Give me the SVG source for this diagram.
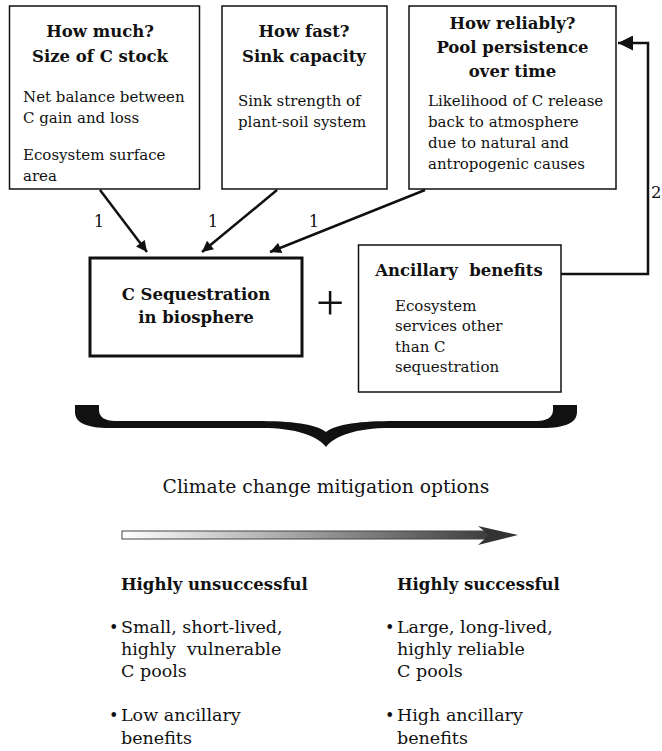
<svg xmlns="http://www.w3.org/2000/svg" width="662" height="751" viewBox="0 0 662 751">
<defs>
<style>
text{font-family:"DejaVu Serif","Liberation Serif",serif;fill:#111}
.t{font-size:16.5px;font-weight:bold;text-anchor:middle}
.b{font-size:15px}
.n{font-size:16.5px;text-anchor:middle}
.box{fill:#fff;stroke:#111;stroke-width:1.5}
.con{fill:none;stroke:#111;stroke-width:2.5}
.bt{font-size:17.5px}
.bu{font-size:16px}
.bh{font-size:16.5px;font-weight:bold}
</style>
<marker id="ah" viewBox="0 0 10 10" refX="10" refY="5" markerWidth="13" markerHeight="11" markerUnits="userSpaceOnUse" orient="auto">
<path d="M0,0 L10,5 L0,10 z" fill="#111"/>
</marker>
<marker id="ah2" viewBox="0 0 10 10" refX="10" refY="5" markerWidth="17" markerHeight="15" markerUnits="userSpaceOnUse" orient="auto">
<path d="M0,0 L10,5 L0,10 z" fill="#111"/>
</marker>
<linearGradient id="grad" x1="122" y1="0" x2="518" y2="0" gradientUnits="userSpaceOnUse">
<stop offset="0" stop-color="#ffffff"/>
<stop offset="1" stop-color="#2e2e2e"/>
</linearGradient>
</defs>
<rect width="662" height="751" fill="#fff"/>

<g id="how-much">
<rect class="box" x="9.5" y="6" width="190" height="183"/>
<text class="t" x="100" y="37">How much?</text>
<text class="t" x="100" y="62">Size of C stock</text>
<text class="b" x="23" y="102">Net balance between</text>
<text class="b" x="23" y="123">C gain and loss</text>
<text class="b" x="23" y="160">Ecosystem surface</text>
<text class="b" x="23" y="181">area</text>
</g>

<g id="how-fast">
<rect class="box" x="222" y="6" width="165" height="183"/>
<text class="t" x="304" y="37">How fast?</text>
<text class="t" x="304" y="62">Sink capacity</text>
<text class="b" x="238" y="106">Sink strength of</text>
<text class="b" x="238" y="127">plant-soil system</text>
</g>

<g id="how-reliably">
<rect class="box" x="409" y="6" width="207" height="183"/>
<text class="t" x="512.5" y="29">How reliably?</text>
<text class="t" x="512.5" y="53">Pool persistence</text>
<text class="t" x="512.5" y="77">over time</text>
<text class="b" x="428" y="106">Likelihood of C release</text>
<text class="b" x="428" y="127">back to atmosphere</text>
<text class="b" x="428" y="148">due to natural and</text>
<text class="b" x="428" y="169">antropogenic causes</text>
</g>

<g id="c-sequestration">
<rect x="90" y="258" width="212" height="98" fill="#fff" stroke="#111" stroke-width="3"/>
<text class="t" x="196" y="300">C Sequestration</text>
<text class="t" x="196" y="323">in biosphere</text>
</g>

<g id="plus">
<text x="330" y="320" font-size="50" text-anchor="middle" style="font-family:'Liberation Serif',serif">+</text>
</g>

<g id="ancillary">
<rect class="box" x="358.5" y="245" width="202.5" height="147"/>
<text class="t" x="459" y="276" style="white-space:pre" xml:space="preserve">Ancillary  benefits</text>
<text class="b" x="395" y="311">Ecosystem</text>
<text class="b" x="395" y="331">services other</text>
<text class="b" x="395" y="352">than C</text>
<text class="b" x="395" y="372">sequestration</text>
</g>

<g id="connectors">
<line class="con" x1="100" y1="190" x2="147" y2="252" marker-end="url(#ah)"/>
<line class="con" x1="277" y1="190" x2="202" y2="252" marker-end="url(#ah)"/>
<line class="con" x1="425" y1="190" x2="270" y2="252" marker-end="url(#ah)"/>
<path class="con" d="M561,274 H648 V43 H618" stroke-width="2.2" marker-end="url(#ah2)"/>
<text class="n" x="99" y="227">1</text>
<text class="n" x="213" y="227">1</text>
<text class="n" x="314" y="227">1</text>
<text class="n" x="651" y="198" style="text-anchor:start">2</text>
</g>

<g id="brace">
<path d="M75,405 L75,412 C75,422 85,428 110,428 L262,428 C296,428 318,436 326,447 C334,436 356,428 390,428 L542,428 C567,428 577,422 577,412 L577,405 L553,405 L553,410 C553,417 547,421 537,421 L396,421 C360,421 336,424 326,432 C316,424 292,421 256,421 L115,421 C105,421 99,417 99,410 L99,405 Z" fill="#111"/>
</g>

<g id="mitigation">
<text x="326" y="493" font-size="18.7" text-anchor="middle">Climate change mitigation options</text>
<rect x="122" y="531" width="367" height="8" fill="url(#grad)" stroke="#444" stroke-width="1"/>
<path d="M478,526 L518,535 L478,545 L489,535 Z" fill="#333"/>
</g>

<g id="unsuccessful">
<text class="bh" x="121" y="590">Highly unsuccessful</text>
<text class="bu" x="109" y="633">•</text>
<text class="bt" x="121" y="633">Small, short-lived,</text>
<text class="bt" x="121" y="655" style="white-space:pre" xml:space="preserve">highly  vulnerable</text>
<text class="bt" x="121" y="677">C pools</text>
<text class="bu" x="109" y="721">•</text>
<text class="bt" x="121" y="721">Low ancillary</text>
<text class="bt" x="121" y="744">benefits</text>
</g>

<g id="successful">
<text class="bh" x="397" y="590">Highly successful</text>
<text class="bu" x="385" y="633">•</text>
<text class="bt" x="397" y="633">Large, long-lived,</text>
<text class="bt" x="397" y="655">highly reliable</text>
<text class="bt" x="397" y="677">C pools</text>
<text class="bu" x="385" y="721">•</text>
<text class="bt" x="397" y="721">High ancillary</text>
<text class="bt" x="397" y="744">benefits</text>
</g>
</svg>
